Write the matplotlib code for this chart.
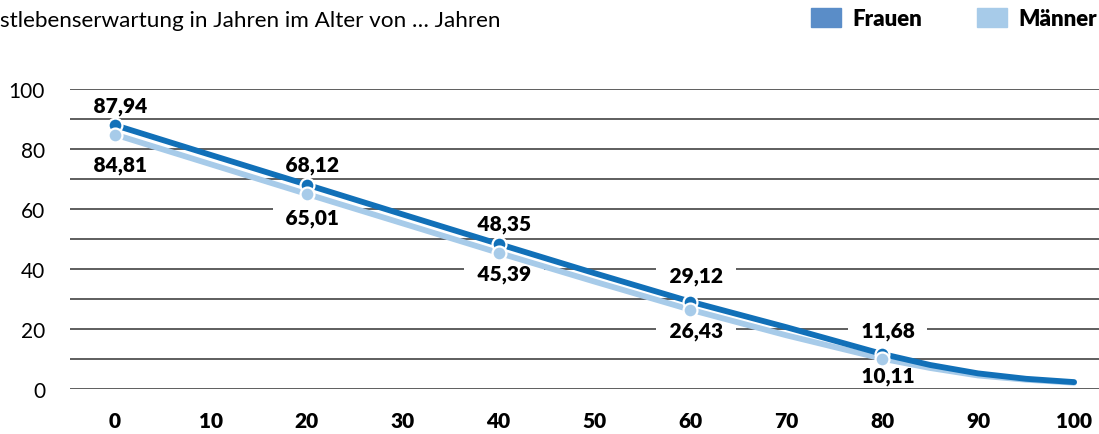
"""Restlebenserwartung nach Alter, Frauen und Männer."""

import matplotlib

matplotlib.use("Agg")
import matplotlib.pyplot as plt
from matplotlib.patches import Patch

plt.rcParams["font.family"] = ["Lato", "DejaVu Sans"]

title = "stlebenserwartung in Jahren im Alter von … Jahren"

alter = [0, 10, 20, 30, 40, 50, 60, 70, 80, 85, 90, 95, 100]
frauen = [87.94, 78.0, 68.12, 58.2, 48.35, 38.6, 29.12, 20.6, 11.68, 8.0, 5.2, 3.4, 2.3]
maenner = [84.81, 74.9, 65.01, 55.2, 45.39, 35.8, 26.43, 17.9, 10.11, 7.0, 4.5, 3.1, 2.1]

label_alter = [0, 20, 40, 60, 80]
frauen_labels = [87.94, 68.12, 48.35, 29.12, 11.68]
maenner_labels = [84.81, 65.01, 45.39, 26.43, 10.11]

# vertical label offsets in points
frauen_dy = [14.4, 14.8, 14.4, 18.7, 16.6]
maenner_dy = [-21.2, -16.6, -15.1, -15.1, -12.2]

c_frauen = "#1170b8"
c_maenner = "#a7cbe9"
c_frauen_leg = "#5a8dc8"

fig = plt.figure(figsize=(10.99, 4.35), dpi=100)
ax = fig.add_axes([70 / 1099, 45 / 435, 1029 / 1099, 300 / 435])
ax.set_xlim(-4.69, 102.6)
ax.set_ylim(0, 100)

for y in range(0, 101, 10):
    ax.axhline(y, color="#333333", linewidth=1.1, zorder=0)

ax.plot(alter, maenner, color=c_maenner, linewidth=4.2, solid_capstyle="round", zorder=2, clip_on=False)
ax.plot(alter, frauen, color=c_frauen, linewidth=4.2, solid_capstyle="round", zorder=3, clip_on=False)
ax.plot(label_alter, frauen_labels, "o", color=c_frauen, markersize=10,
        markeredgecolor="white", markeredgewidth=1.6, zorder=4, clip_on=False)
ax.plot(label_alter, maenner_labels, "o", color=c_maenner, markersize=10,
        markeredgecolor="white", markeredgewidth=1.6, zorder=5, clip_on=False)


def fmt(v):
    return "\u2002" + f"{v:.2f}".replace(".", ",") + "\u2002"


box = dict(boxstyle="square,pad=0.12", facecolor="white", edgecolor="none")
for a, f, m, fdy, mdy in zip(label_alter, frauen_labels, maenner_labels, frauen_dy, maenner_dy):
    ax.annotate(fmt(f), (a, f), xytext=(4, fdy), textcoords="offset points",
                ha="center", va="center", fontsize=15, fontweight="heavy", bbox=box, zorder=1)
    ax.annotate(fmt(m), (a, m), xytext=(4, mdy), textcoords="offset points",
                ha="center", va="center", fontsize=15, fontweight="heavy", bbox=box, zorder=1)

ax.set_xticks(range(0, 101, 10))
ax.set_yticks(range(0, 101, 20))
ax.tick_params(axis="x", length=0, pad=16, labelsize=15)
ax.tick_params(axis="y", length=0, pad=18, labelsize=15)
for lbl in ax.get_xticklabels():
    lbl.set_fontweight("heavy")
for s in ax.spines.values():
    s.set_visible(False)

fig.text(0, 1 - 21 / 435, title, fontsize=16.2, va="center", ha="left")

handles = [Patch(color=c_frauen_leg, label="Frauen"), Patch(color=c_maenner, label="Männer")]
fig.legend(handles=handles, loc="upper right", bbox_to_anchor=(1097 / 1099, 1 - 9 / 435), ncol=2,
           frameon=False, prop={"weight": "heavy", "size": 16}, handlelength=1.35, handleheight=0.95,
           handletextpad=0.5, columnspacing=2.5, borderaxespad=0, borderpad=0)

fig.savefig("out.png", dpi=100)
plt.close()
